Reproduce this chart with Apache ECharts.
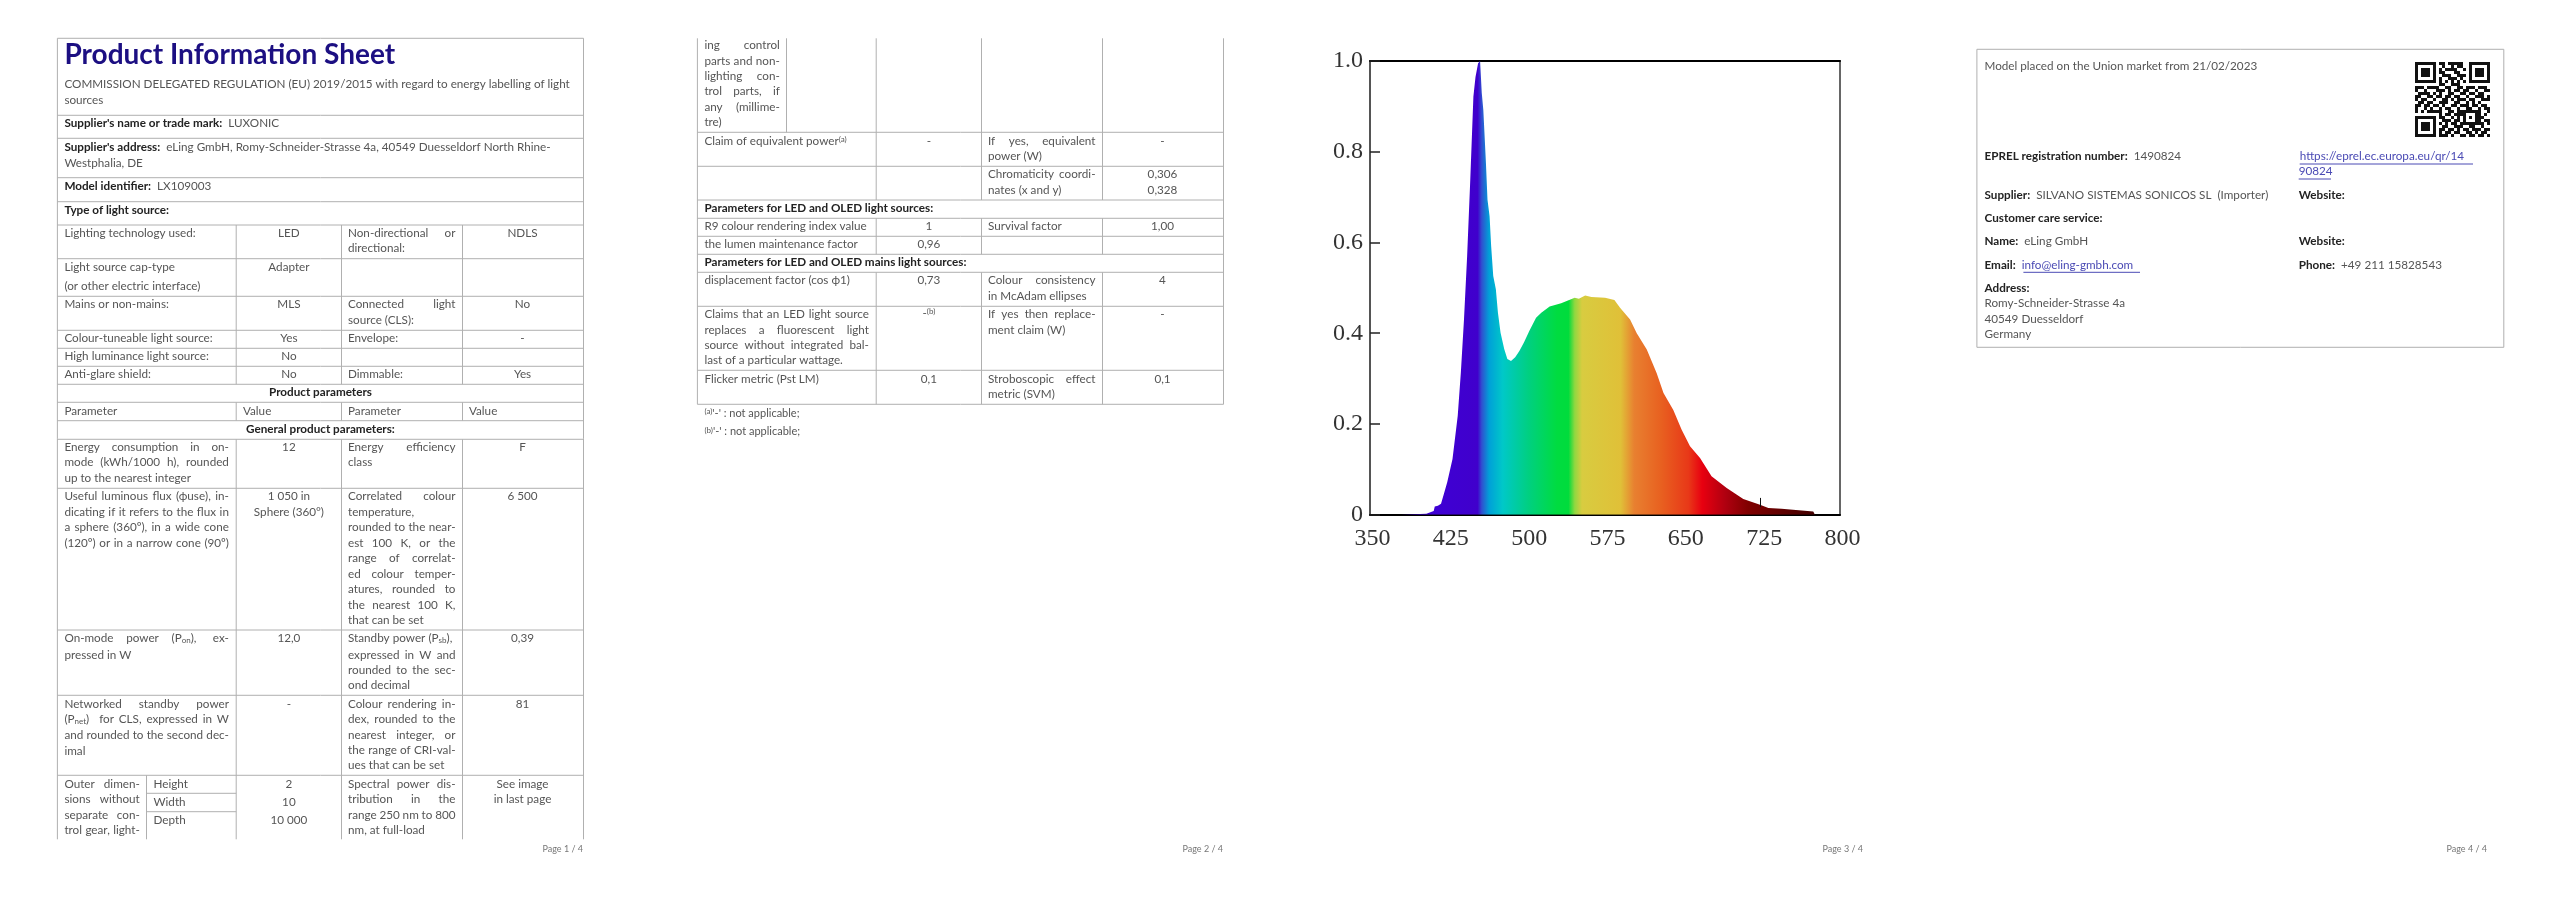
<!DOCTYPE html>
<html>
<head>
<meta charset="utf-8">
<title>Product Information Sheet</title>
<style>
html, body { margin: 0; padding: 0; background: #fff; }
#main { width: 2560px; height: 905px; }
</style>
<script src="https://cdn.jsdelivr.net/npm/echarts@6/dist/echarts.min.js"></script>
</head>
<body>
<div id="main"></div>
<script>
// spectrum
var wavelengths = [350, 380, 381, 404, 405, 411, 412, 415, 418, 421, 424, 429, 434, 437, 440, 443, 446, 449, 451, 453.5, 455.4, 457, 458.5, 461, 462.5, 464.5, 466, 468, 470.5, 472.5, 475, 478.5, 481.5, 485, 489, 493, 497.5, 502.5, 509, 514, 522, 533, 546, 550, 556, 562, 575, 584, 589.4, 599, 605.4, 615, 624.5, 631, 640.4, 648.4, 656.4, 666, 677, 691.5, 707.4, 723.4, 731.4, 744, 774.4, 776, 800];
var intensities = [0, 0, 0.002, 0.002, 0.006, 0.008, 0.018, 0.02, 0.024, 0.048, 0.072, 0.123, 0.218, 0.314, 0.431, 0.57, 0.738, 0.922, 0.965, 0.995, 1, 0.93, 0.892, 0.775, 0.694, 0.658, 0.592, 0.526, 0.497, 0.445, 0.401, 0.365, 0.343, 0.339, 0.347, 0.361, 0.38, 0.405, 0.434, 0.445, 0.459, 0.466, 0.478, 0.476, 0.483, 0.48, 0.478, 0.473, 0.456, 0.43, 0.4, 0.364, 0.312, 0.268, 0.231, 0.187, 0.151, 0.125, 0.0845, 0.059, 0.0345, 0.022, 0.0147, 0.013, 0.0073, 0, 0];
var xTicks = [350, 425, 500, 575, 650, 725, 800];
var spike = [724, 0.017, 0.037];

// rainbow under the curve, nm -> colour
var stopNm = [350, 453, 457, 464, 477, 502, 529, 540, 546, 553, 590, 603, 629, 655, 668, 690, 712, 760, 800];
var stopColor = ['#3c00e0', '#4000cc', '#3050d0', '#00a0d8', '#00c8c8', '#00d080', '#00dc40', '#00dc3c', '#90d840', '#d8cc40', '#e0c038', '#e88030', '#e86020', '#e83818', '#e80010', '#b00010', '#800000', '#500000', '#300000'];

var qrRows = [
  '1111111011011111001111111',
  '1000001001001011001000001',
  '1011101010111100101011101',
  '1011101011000110001011101',
  '1011101001110011101011101',
  '1000001010011101001000001',
  '1111111010101010101111111',
  '0000000011001110000000000',
  '1110111100110011011101110',
  '1001000111010110110010011',
  '0111101010011001101101100',
  '1100110110110110010011101',
  '1011001001101011101100111',
  '0110110011100110010101000',
  '1101101101001101110110110',
  '1001010010110010011001011',
  '1010111110011011111111001',
  '0000000010110111100011010',
  '1111111011001010101011100',
  '1000001001110110100011011',
  '1011101010101101111111101',
  '1011101001100111001100100',
  '1011101011011010110111011',
  '1000001010110110011010110',
  '1111111011101001101101101'
];

var spectrum = wavelengths.map(function (nm, i) { return [nm, intensities[i]]; });
var gradientStops = stopNm.map(function (nm, i) {
  return { offset: (nm - 350) / 450, color: stopColor[i] };
});

var fontName = 'Lato';
var fontSize = 11.7;
var grey = '#555', dark = '#222', ruleColor = '#b0b0b0', linkColor = '#4a4ab4';
var ctx = document.createElement('canvas').getContext('2d');
var els = [];
var dx = 0;

var richStyles = {
  b: { font: 'bold ' + fontSize + 'px ' + fontName, fill: dark },
  n: { font: fontSize + 'px ' + fontName, fill: grey },
  l: { font: fontSize + 'px ' + fontName, fill: linkColor },
  s: { font: '8px ' + fontName, fill: grey, verticalAlign: 'bottom' },
  u: { font: '8px ' + fontName, fill: grey, verticalAlign: 'top' }
};

function rule(x1, y1, x2, y2, color) {
  els.push({
    type: 'line', silent: true,
    shape: { x1: x1 + dx, y1: y1, x2: x2 + dx, y2: y2 },
    style: { stroke: color || ruleColor, lineWidth: 1 }
  });
}
function txt(x, y, str, opt) {
  opt = opt || {};
  var bold = opt.bold ? 'bold ' : '';
  els.push({
    type: 'text', silent: true, x: x + dx, y: y,
    style: {
      text: str,
      font: bold + (opt.size || fontSize) + 'px ' + fontName,
      fill: opt.fill || (opt.bold ? dark : grey),
      align: opt.align || 'left',
      verticalAlign: 'middle',
      rich: richStyles
    }
  });
}
// justified line, spaces stretched to reach x2
function just(x, x2, y, str) {
  var words = str.split(' ');
  ctx.font = fontSize + 'px ' + fontName;
  var widths = words.map(function (w) {
    return ctx.measureText(w.replace(/\{\w\|([^}]*)\}/g, '$1')).width;
  });
  var total = widths.reduce(function (a, b) { return a + b; }, 0);
  var gap = words.length > 1 ? (x2 - x - total) / (words.length - 1) : 0;
  var cur = x;
  words.forEach(function (w, i) {
    txt(cur, y, w);
    cur += widths[i] + gap;
  });
}

// table columns shared by page 1 and 2
var A = 57.4, IN = 146.5, B = 236.2, C = 341.5, D = 462.5, E = 583.5;
var t1 = 64.4, t1e = 228.9, mid2 = 288.9, t3 = 348, t3e = 455.5, mid4 = 522.5;

function hr(y, x1, x2) { rule(x1 === undefined ? A : x1, y, x2 === undefined ? E : x2, y); }
function vert(y1, y2, cols) {
  cols.forEach(function (x) { rule(x, y1, x, y2); });
}

// page 1
vert(38.3, 839.3, [A, E]);
vert(225, 384.3, [B, C, D]);
vert(402.3, 420.7, [B, C, D]);
vert(439.3, 839.3, [B, C, D]);
vert(775.3, 839.3, [IN]);
[38.3, 115.3, 138.3, 177.7, 201.7, 225, 258.7, 296.3, 330.3, 348.3, 366.3, 384.3, 402.3, 420.7, 439.3, 488.3, 630, 695.3, 775.3].forEach(function (y) { hr(y); });
hr(793.3, IN, B);
hr(811.7, IN, B);

txt(t1, 55, 'Product Information Sheet', { bold: true, size: 28, fill: '#1c0f82' });
txt(t1, 84.3, 'COMMISSION DELEGATED REGULATION (EU) 2019/2015 with regard to energy labelling of light');
txt(t1, 100.3, 'sources');
txt(t1, 123.7, "{b|Supplier's name or trade mark:}  LUXONIC");
txt(t1, 147, "{b|Supplier's address:}  eLing GmbH, Romy-Schneider-Strasse 4a, 40549 Duesseldorf North Rhine-");
txt(t1, 163, 'Westphalia, DE');
txt(t1, 186, '{b|Model identifier:}  LX109003');
txt(t1, 210, 'Type of light source:', { bold: true });

txt(t1, 233.3, 'Lighting technology used:');
txt(mid2, 233.3, 'LED', { align: 'center' });
just(t3, t3e, 233.3, 'Non-directional or');
txt(t3, 248.3, 'directional:');
txt(mid4, 233.3, 'NDLS', { align: 'center' });
txt(t1, 267, 'Light source cap-type');
txt(t1, 286.3, '(or other electric interface)');
txt(mid2, 267, 'Adapter', { align: 'center' });
txt(t1, 304.7, 'Mains or non-mains:');
txt(mid2, 304.7, 'MLS', { align: 'center' });
just(t3, t3e, 304.7, 'Connected light');
txt(t3, 320.3, 'source (CLS):');
txt(mid4, 304.7, 'No', { align: 'center' });
txt(t1, 338.3, 'Colour-tuneable light source:');
txt(mid2, 338.3, 'Yes', { align: 'center' });
txt(t3, 338.3, 'Envelope:');
txt(mid4, 338.3, '-', { align: 'center' });
txt(t1, 356.7, 'High luminance light source:');
txt(mid2, 356.7, 'No', { align: 'center' });
txt(t1, 374.7, 'Anti-glare shield:');
txt(mid2, 374.7, 'No', { align: 'center' });
txt(t3, 374.7, 'Dimmable:');
txt(mid4, 374.7, 'Yes', { align: 'center' });
txt((A + E) / 2, 392.7, 'Product parameters', { bold: true, align: 'center' });
txt(t1, 411, 'Parameter');
txt(243, 411, 'Value');
txt(t3, 411, 'Parameter');
txt(469, 411, 'Value');
txt((A + E) / 2, 429.5, 'General product parameters:', { bold: true, align: 'center' });

just(t1, t1e, 447.3, 'Energy consumption in on-');
just(t1, t1e, 462.7, 'mode (kWh/1000 h), rounded');
txt(t1, 478.3, 'up to the nearest integer');
txt(mid2, 447.3, '12', { align: 'center' });
just(t3, t3e, 447.3, 'Energy efficiency');
txt(t3, 462.7, 'class');
txt(mid4, 447.3, 'F', { align: 'center' });

just(t1, t1e, 496.7, 'Useful luminous flux (\u03d5use), in-');
just(t1, t1e, 512, 'dicating if it refers to the flux in');
just(t1, t1e, 527.3, 'a sphere (360\u00ba), in a wide cone');
just(t1, t1e, 543, '(120\u00ba) or in a narrow cone (90\u00ba)');
txt(mid2, 496.7, '1 050 in', { align: 'center' });
txt(mid2, 512, 'Sphere (360\u00b0)', { align: 'center' });
just(t3, t3e, 496.7, 'Correlated colour');
txt(t3, 512, 'temperature,');
just(t3, t3e, 527.3, 'rounded to the near-');
just(t3, t3e, 543, 'est 100 K, or the');
just(t3, t3e, 558.3, 'range of correlat-');
just(t3, t3e, 574, 'ed colour temper-');
just(t3, t3e, 589.3, 'atures, rounded to');
just(t3, t3e, 605, 'the nearest 100 K,');
txt(t3, 620, 'that can be set');
txt(mid4, 496.7, '6 500', { align: 'center' });

just(t1, t1e, 638.3, 'On-mode power (P{s|on}), ex-');
txt(t1, 655, 'pressed in W');
txt(mid2, 638.3, '12,0', { align: 'center' });
just(t3, t3e, 638.3, 'Standby power (P{s|sb}),');
just(t3, t3e, 655, 'expressed in W and');
just(t3, t3e, 670.3, 'rounded to the sec-');
txt(t3, 685.7, 'ond decimal');
txt(mid4, 638.3, '0,39', { align: 'center' });

just(t1, t1e, 704, 'Networked standby power');
just(t1, t1e, 719.3, '(P{s|net}) for CLS, expressed in W');
just(t1, t1e, 735.7, 'and rounded to the second dec-');
txt(t1, 751.3, 'imal');
txt(mid2, 704, '-', { align: 'center' });
just(t3, t3e, 704, 'Colour rendering in-');
just(t3, t3e, 719.3, 'dex, rounded to the');
just(t3, t3e, 735, 'nearest integer, or');
just(t3, t3e, 750.3, 'the range of CRI-val-');
txt(t3, 765.7, 'ues that can be set');
txt(mid4, 704, '81', { align: 'center' });

just(t1, 139.8, 784, 'Outer dimen-');
just(t1, 139.8, 799.3, 'sions without');
just(t1, 139.8, 815, 'separate con-');
just(t1, 139.8, 830.3, 'trol gear, light-');
txt(153.5, 784, 'Height');
txt(153.5, 802, 'Width');
txt(153.5, 820.3, 'Depth');
txt(mid2, 784, '2', { align: 'center' });
txt(mid2, 802, '10', { align: 'center' });
txt(mid2, 820.3, '10 000', { align: 'center' });
just(t3, t3e, 784, 'Spectral power dis-');
just(t3, t3e, 799.3, 'tribution in the');
just(t3, t3e, 815, 'range 250 nm to 800');
txt(t3, 830.3, 'nm, at full-load');
txt(mid4, 784, 'See image', { align: 'center' });
txt(mid4, 799.3, 'in last page', { align: 'center' });

// page 2, same columns moved right
dx = 640;
vert(38.3, 404.3, [A, E]);
vert(38.3, 132.3, [IN]);
vert(38.3, 200, [B, C, D]);
vert(218.3, 254.3, [B, C, D]);
vert(272.3, 404.3, [B, C, D]);
[132.3, 166.3, 200, 218.3, 236.3, 254.3, 272.3, 306.3, 370.3, 404.3].forEach(function (y) { hr(y); });

just(t1, 139.8, 45.7, 'ing control');
just(t1, 139.8, 61, 'parts and non-');
just(t1, 139.8, 76.3, 'lighting con-');
just(t1, 139.8, 91.7, 'trol parts, if');
just(t1, 139.8, 107.3, 'any (millime-');
txt(t1, 122.7, 'tre)');
txt(t1, 141.7, 'Claim of equivalent power{u|(a)}');
txt(mid2, 141.7, '-', { align: 'center' });
just(t3, t3e, 141, 'If yes, equivalent');
txt(t3, 156.7, 'power (W)');
txt(mid4, 141, '-', { align: 'center' });
just(t3, t3e, 174.3, 'Chromaticity coordi-');
txt(t3, 190, 'nates (x and y)');
txt(mid4, 174.3, '0,306', { align: 'center' });
txt(mid4, 190, '0,328', { align: 'center' });
txt(t1, 208.3, 'Parameters for LED and OLED light sources:', { bold: true });
txt(t1, 226.3, 'R9 colour rendering index value');
txt(mid2, 226.3, '1', { align: 'center' });
txt(t3, 226.3, 'Survival factor');
txt(mid4, 226.3, '1,00', { align: 'center' });
txt(t1, 244.3, 'the lumen maintenance factor');
txt(mid2, 244.3, '0,96', { align: 'center' });
txt(t1, 262.3, 'Parameters for LED and OLED mains light sources:', { bold: true });
txt(t1, 280.7, 'displacement factor (cos \u03d51)');
txt(mid2, 280.7, '0,73', { align: 'center' });
just(t3, t3e, 280.7, 'Colour consistency');
txt(t3, 296.3, 'in McAdam ellipses');
txt(mid4, 280.7, '4', { align: 'center' });
just(t1, t1e, 314.3, 'Claims that an LED light source');
just(t1, t1e, 330, 'replaces a fluorescent light');
just(t1, t1e, 345.3, 'source without integrated bal-');
txt(t1, 360.7, 'last of a particular wattage.');
txt(mid2, 313, '-{u|(b)}', { align: 'center' });
just(t3, t3e, 314.3, 'If yes then replace-');
txt(t3, 330, 'ment claim (W)');
txt(mid4, 314.3, '-', { align: 'center' });
txt(t1, 379, 'Flicker metric (Pst LM)');
txt(mid2, 379, '0,1', { align: 'center' });
just(t3, t3e, 379, 'Stroboscopic effect');
txt(t3, 394.3, 'metric (SVM)');
txt(mid4, 379, '0,1', { align: 'center' });
txt(t1, 413.3, "{u|(a)}'-' : not applicable;", { size: 11 });
txt(t1, 431.7, "{u|(b)}'-' : not applicable;", { size: 11 });
dx = 0;

// page 4
var L4 = 1976.9, R4 = 2503.8, T4 = 49.3, B4 = 347.3, x41 = 1984.5, x42 = 2298.7;
rule(L4, T4, R4, T4); rule(L4, B4, R4, B4); rule(L4, T4, L4, B4); rule(R4, T4, R4, B4);
txt(x41, 66.7, 'Model placed on the Union market from 21/02/2023');
txt(x41, 156, '{b|EPREL registration number:}  1490824');
txt(x42 + 1, 156, 'https://eprel.ec.europa.eu/qr/14', { fill: linkColor });
rule(x42 + 1, 164, 2473, 164, linkColor);
txt(x42, 171.7, '90824', { fill: linkColor });
rule(x42, 179, 2331, 179, linkColor);
txt(x41, 195, '{b|Supplier:}  SILVANO SISTEMAS SONICOS SL  (Importer)');
txt(x42, 195, 'Website:', { bold: true });
txt(x41, 218.3, 'Customer care service:', { bold: true });
txt(x41, 241.7, '{b|Name:}  eLing GmbH');
txt(x42, 241.7, 'Website:', { bold: true });
txt(x41, 265, '{b|Email:}  {l|info@eling-gmbh.com}');
rule(2023.4, 272.3, 2140, 272.3, linkColor);
txt(x42, 265, '{b|Phone:}  +49 211 15828543');
txt(x41, 288.3, 'Address:', { bold: true });
txt(x41, 303.7, 'Romy-Schneider-Strasse 4a');
txt(x41, 319, '40549 Duesseldorf');
txt(x41, 334.7, 'Germany');

// qr code, one rect per dark run
qrRows.forEach(function (row, r) {
  row.replace(/1+/g, function (run, c) {
    els.push({
      type: 'rect', silent: true,
      shape: { x: 2415 + c * 3, y: 62 + r * 3, width: run.length * 3, height: 3 },
      style: { fill: '#111' }
    });
    return run;
  });
});

// page numbers
[[583, 'Page 1 / 4'], [1223, 'Page 2 / 4'], [1863, 'Page 3 / 4'], [2487, 'Page 4 / 4']].forEach(function (p) {
  txt(p[0], 849, p[1], { align: 'right', size: 9, fill: '#777' });
});

var chart = echarts.init(document.getElementById('main'));
var axisFont = { fontFamily: 'Liberation Serif', fontSize: 24, color: '#333' };

var option = {
  animation: false,
  backgroundColor: '#fff',
  grid: { left: 1370, top: 61, width: 470, height: 453.7 },
  xAxis: [{
    type: 'value', min: 350, max: 800,
    axisLine: { onZero: false, lineStyle: { color: '#000', width: 2 } },
    axisTick: { show: false },
    splitLine: { show: false },
    axisLabel: Object.assign({ customValues: xTicks, margin: 12, padding: [0, 0, 0, 5] }, axisFont)
  }, {
    type: 'value', position: 'top', min: 350, max: 800,
    axisLine: { show: true, onZero: false, lineStyle: { color: '#000', width: 2 } },
    axisTick: { show: false }, axisLabel: { show: false }, splitLine: { show: false }
  }],
  yAxis: [{
    type: 'value', min: 0, max: 1, interval: 0.2,
    axisLine: { show: true, onZero: false, lineStyle: { color: '#555', width: 2 } },
    axisTick: { show: true, inside: true, length: 10, lineStyle: { color: '#222', width: 1.5 } },
    splitLine: { show: false },
    axisLabel: Object.assign({ margin: 7, formatter: function (v) { return v === 0 ? '0' : v.toFixed(1); } }, axisFont)
  }, {
    type: 'value', position: 'right', min: 0, max: 1,
    axisLine: { show: true, onZero: false, lineStyle: { color: '#666', width: 2 } },
    axisTick: { show: false }, axisLabel: { show: false }, splitLine: { show: false }
  }],
  series: [{
    type: 'line',
    data: spectrum,
    symbol: 'none',
    lineStyle: { width: 0 },
    areaStyle: {
      opacity: 1,
      color: new echarts.graphic.LinearGradient(0, 0, 1, 0, gradientStops)
    },
    markLine: {
      silent: true, symbol: 'none', label: { show: false },
      lineStyle: { color: '#111', width: 1, type: 'solid' },
      data: [[{ coord: [spike[0], spike[1]] }, { coord: [spike[0], spike[2]] }]]
    }
  }],
  graphic: { elements: els }
};
chart.setOption(option);
</script>
</body>
</html>
